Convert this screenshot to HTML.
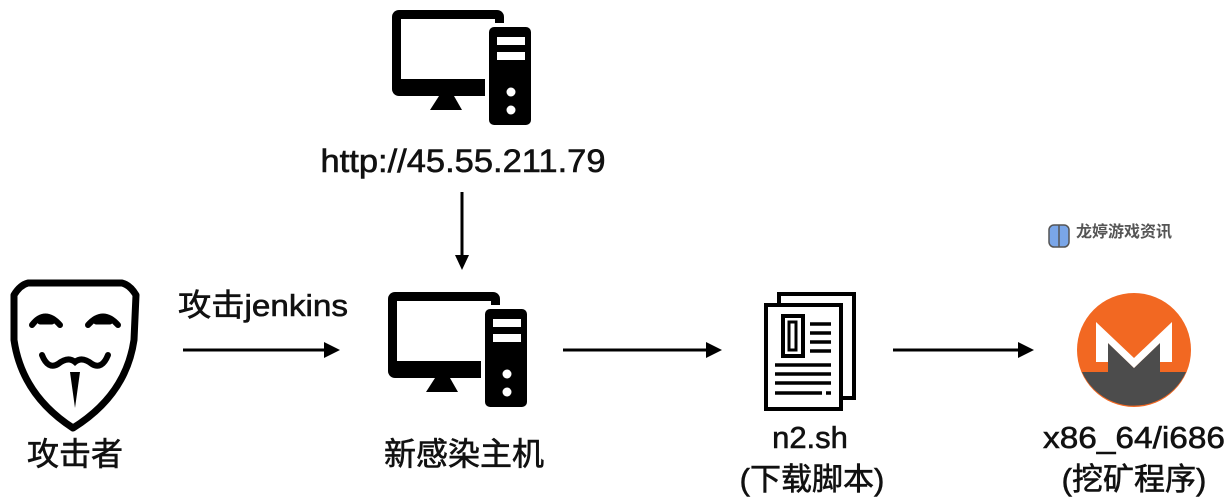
<!DOCTYPE html>
<html><head><meta charset="utf-8"><style>
html,body{margin:0;padding:0;background:#fff;}
svg{display:block}
text{font-family:"Liberation Sans","Noto Sans CJK SC",sans-serif;fill:#111;}
</style></head><body>
<svg width="1231" height="500" viewBox="0 0 1231 500">
<defs>
<g id="pc">
 <rect x="0" y="0" width="112" height="86" rx="7" fill="#000"/>
 <rect x="9" y="9" width="94" height="60" fill="#fff"/>
 <path d="M38,100 L47,86 L62,86 L70,100z" fill="#000"/>
 <rect x="93" y="13" width="50" height="106" rx="7" fill="#fff"/>
 <rect x="97" y="17" width="42" height="98" rx="5" fill="#000"/>
 <rect x="105" y="27" width="28" height="8" fill="#fff"/>
 <rect x="105" y="42" width="28" height="8" fill="#fff"/>
 <circle cx="119" cy="82" r="4.5" fill="#fff"/>
 <circle cx="119" cy="100" r="4.5" fill="#fff"/>
</g>
</defs>
<use href="#pc" x="392" y="10"/>
<use href="#pc" x="388" y="292"/>
<text x="463" y="172" font-size="32" text-anchor="middle" textLength="285" lengthAdjust="spacingAndGlyphs" stroke="#111" stroke-width="0.6">http://45.55.211.79</text>
<line x1="462" y1="192" x2="462" y2="258" stroke="#000" stroke-width="3"/>
<path d="M455,255 L469,255 L462,270z" fill="#000"/>
<text x="263" y="316" font-size="31" text-anchor="middle" textLength="170" lengthAdjust="spacingAndGlyphs" stroke="#111" stroke-width="0.6">攻击jenkins</text>
<line x1="183" y1="350" x2="326" y2="350" stroke="#000" stroke-width="3"/>
<path d="M324,342 L340,350 L324,358z" fill="#000"/>
<line x1="563" y1="350" x2="708" y2="350" stroke="#000" stroke-width="3"/>
<path d="M706,342 L722,350 L706,358z" fill="#000"/>
<line x1="893" y1="350" x2="1020" y2="350" stroke="#000" stroke-width="3"/>
<path d="M1018,342 L1034,350 L1018,358z" fill="#000"/>
<!-- mask -->
<path d="M14,295 Q20,285 28,283 L122,283 Q130,285 136,295 L134,340 Q126,395 73,428 Q22,395 14,340z" fill="none" stroke="#000" stroke-width="7" stroke-linejoin="round"/>
<path d="M32,325 Q45,308 60,325" fill="none" stroke="#000" stroke-width="6" stroke-linecap="round"/>
<path d="M88,325 Q103,308 118,325" fill="none" stroke="#000" stroke-width="6" stroke-linecap="round"/>
<line x1="40" y1="322" x2="52" y2="322" stroke="#000" stroke-width="5" stroke-linecap="round"/>
<line x1="96" y1="322" x2="110" y2="322" stroke="#000" stroke-width="5" stroke-linecap="round"/>
<path d="M42,355 Q48,370 58,364 Q68,356 75,362 Q82,356 92,364 Q102,370 108,355" fill="none" stroke="#000" stroke-width="6" stroke-linecap="round"/>
<path d="M70,372 L80,372 L75,408z" fill="#000"/>
<text x="75" y="465" font-size="32" text-anchor="middle" stroke="#111" stroke-width="0.6">攻击者</text>
<text x="464" y="465" font-size="32" text-anchor="middle" stroke="#111" stroke-width="0.6">新感染主机</text>
<!-- document -->
<rect x="779" y="294" width="75" height="104" fill="#fff" stroke="#000" stroke-width="4"/>
<rect x="766" y="305" width="75" height="104" fill="#fff" stroke="#000" stroke-width="4"/>
<rect x="783" y="316" width="20" height="40" fill="none" stroke="#000" stroke-width="4"/>
<rect x="789" y="322" width="7" height="28" fill="none" stroke="#000" stroke-width="3"/>
<g stroke="#000" stroke-width="3.5">
<line x1="810" y1="324" x2="831" y2="324"/><line x1="810" y1="333" x2="831" y2="333"/><line x1="810" y1="342" x2="831" y2="342"/><line x1="810" y1="351" x2="831" y2="351"/>
<line x1="775" y1="365" x2="831" y2="365"/><line x1="775" y1="374" x2="831" y2="374"/><line x1="775" y1="383" x2="831" y2="383"/><line x1="775" y1="393" x2="822" y2="393"/><line x1="826" y1="393" x2="831" y2="393"/>
</g>
<text x="810" y="448" font-size="31" text-anchor="middle" stroke="#111" stroke-width="0.6">n2.sh</text>
<text x="812" y="490" font-size="31" text-anchor="middle" stroke="#111" stroke-width="0.6">(下载脚本)</text>
<!-- monero -->
<circle cx="1134" cy="350" r="57" fill="#f26822"/>
<path d="M1082,372 A57,57 0 0,0 1186,372 L1160,372 L1160,343 L1134,368 L1108,343 L1108,372z" fill="#4c4c4c"/>
<path d="M1096,322 L1096,362 L1108,362 L1108,343 L1134,368 L1160,343 L1160,362 L1172,362 L1172,322 L1134,358z" fill="#fff"/>
<text x="1134" y="448" font-size="31" text-anchor="middle" textLength="182" lengthAdjust="spacingAndGlyphs" stroke="#111" stroke-width="0.6">x86_64/i686</text>
<text x="1134" y="490" font-size="31" text-anchor="middle" stroke="#111" stroke-width="0.6">(挖矿程序)</text>
<!-- watermark -->
<rect x="1049" y="225" width="20" height="22" rx="5" fill="#7aa6e8" stroke="#555" stroke-width="1.5"/>
<line x1="1059" y1="225" x2="1059" y2="247" stroke="#555" stroke-width="1.5"/>
<text x="1076" y="237" font-size="16" font-weight="bold" style="fill:#555">龙婷游戏资讯</text>
</svg>
</body></html>
